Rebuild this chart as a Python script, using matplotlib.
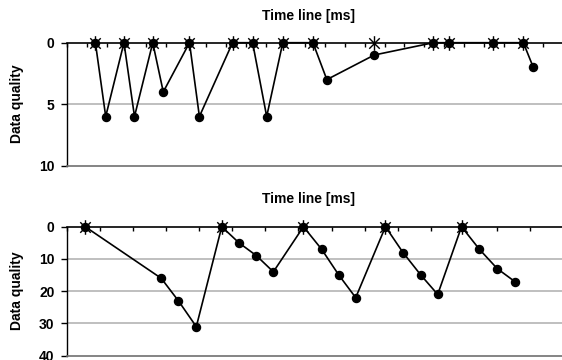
import matplotlib
matplotlib.use("Agg")
import matplotlib.pyplot as plt
from matplotlib.path import Path
import numpy as np

plt.rcParams['font.family'] = ['Liberation Sans', 'DejaVu Sans']

# ---- data: top panel ----
top_x = [1.43, 1.95, 2.87, 3.40, 4.32, 4.85, 6.17, 6.67, 8.34, 9.35, 10.06,
         10.87, 12.39, 13.09, 15.48, 18.46, 19.22, 21.47, 22.99, 23.49]
top_y = [0, 6, 0, 6, 0, 4, 0, 6, 0, 0, 6, 0, 0, 3, 1, 0, 0, 0, 0, 2]
top_star_x = [1.43, 2.87, 4.32, 6.17, 8.34, 9.35, 10.87, 12.39, 15.48,
              18.46, 19.22, 21.47, 22.99]
top_yticks = [0, 5, 10]

# ---- data: bottom panel ----
bot_x = [0.55, 2.85, 3.37, 3.91, 4.68, 5.20, 5.73, 6.24, 7.15, 7.70, 8.22,
         8.73, 9.63, 10.16, 10.70, 11.21, 11.93, 12.47, 13.01, 13.54]
bot_y = [0, 16, 23, 31, 0, 5, 9, 14, 0, 7, 15, 22, 0, 8, 15, 21, 0, 7, 13, 17]
bot_star_x = [0.55, 4.68, 7.15, 9.63, 11.93]
bot_yticks = [0, 10, 20, 30, 40]

xlabel = "Time line [ms]"
ylabel = "Data quality"

# asterisk marker (x + vertical bar), like Excel's star marker
star = Path([(0, -1), (0, 1), (-0.72, -0.72), (0.72, 0.72), (-0.72, 0.72), (0.72, -0.72)],
            [Path.MOVETO, Path.LINETO, Path.MOVETO, Path.LINETO, Path.MOVETO, Path.LINETO])

W, H = 562, 360
fig = plt.figure(figsize=(W / 100, H / 100), dpi=100)

def px_axes(left, top, bottom):
    return fig.add_axes([left / W, 1 - bottom / H, 1 - left / W, (bottom - top) / H])

def style(ax, ymax, xmax, yticks):
    ax.set_ylim(ymax, 0)
    ax.set_xlim(0, xmax)
    ax.xaxis.tick_top()
    ax.set_xticks(np.arange(0, int(xmax) + 1, 1))
    ax.tick_params(axis='x', direction='in', length=3, width=1, labeltop=False,
                   labelbottom=False, color='black')
    ax.set_yticks(yticks)
    ax.set_yticklabels([str(t) for t in yticks], fontsize=10, fontweight='bold')
    ax.tick_params(axis='y', direction='out', length=4, width=1, pad=5)
    for t in yticks[1:-1]:
        ax.axhline(t, color='#b4b4b4', lw=1.2, zorder=0)
    ax.spines['right'].set_visible(False)
    ax.spines['top'].set_color('black')
    ax.spines['top'].set_linewidth(1.2)
    ax.spines['left'].set_linewidth(1.0)
    ax.spines['bottom'].set_color('#707070')
    ax.spines['bottom'].set_linewidth(1.2)
    ax.patch.set_alpha(0)

ax1 = px_axes(67, 42.7, 165.7)
style(ax1, 10, (562 - 67) / 19.85, top_yticks)
ax1.plot(top_x, top_y, color='black', lw=1.2, marker='o', ms=5.8, zorder=3, clip_on=False)
ax1.plot(top_star_x, np.zeros(len(top_star_x)), linestyle='none', marker=star,
         ms=10.5, mew=1.0, mec='black', mfc='none', zorder=4, clip_on=False)

ax2 = px_axes(67, 226.7, 355.7)
style(ax2, 40, (562 - 67) / 33.07, bot_yticks)
ax2.plot(bot_x, bot_y, color='black', lw=1.2, marker='o', ms=5.8, zorder=3, clip_on=False)
ax2.plot(bot_star_x, np.zeros(len(bot_star_x)), linestyle='none', marker=star,
         ms=10.5, mew=1.0, mec='black', mfc='none', zorder=4, clip_on=False)

fig.text(308 / W, 1 - 16 / H, xlabel, ha='center', va='center', fontsize=10, fontweight='bold')
fig.text(308 / W, 1 - 199 / H, xlabel, ha='center', va='center', fontsize=10, fontweight='bold')
fig.text(17 / W, 1 - 104 / H, ylabel, ha='center', va='center', rotation=90,
         fontsize=10, fontweight='bold')
fig.text(17 / W, 1 - 291 / H, ylabel, ha='center', va='center', rotation=90,
         fontsize=10, fontweight='bold')

fig.savefig("out.png", dpi=100)
